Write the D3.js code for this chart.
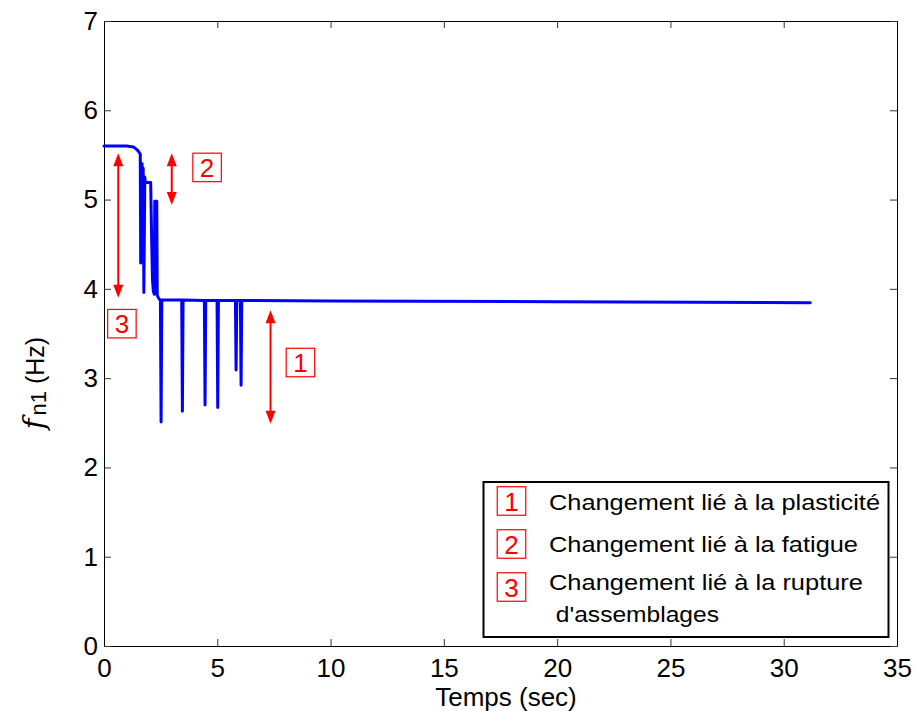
<!DOCTYPE html>
<html><head><meta charset="utf-8">
<script src="https://cdn.jsdelivr.net/npm/d3@7"></script>
<style>body{margin:0;background:#fff}svg{display:block}</style>
</head><body>
<script>
// ---- data ----
const times = [0, 1.0, 1.3, 1.45, 1.55, 1.6, 1.62, 1.66, 1.68, 1.70, 1.73, 1.76, 1.80, 1.82, 2.06, 2.10, 2.14, 2.18, 2.22, 2.24, 2.33, 2.35, 2.40, 2.45, 2.49,
  2.52, 2.55, 3.43, 3.46, 3.49, 4.43, 4.46, 4.49, 4.99, 5.02, 5.05, 5.80, 5.83, 5.86, 6.02, 6.05, 6.08, 10, 20, 31.17];
const freq = [5.60, 5.60, 5.59, 5.56, 5.53, 5.51, 4.29, 4.35, 5.40, 5.30, 5.35, 3.96, 5.25, 5.19, 5.19, 4.60, 4.10, 3.97, 3.94, 4.98, 4.98, 3.93, 3.90, 3.88, 3.875,
  2.51, 3.875, 3.875, 2.63, 3.875, 3.87, 2.70, 3.87, 3.87, 2.67, 3.87, 3.87, 3.09, 3.87, 3.87, 2.92, 3.87, 3.865, 3.855, 3.845];
const xTicks = [0, 5, 10, 15, 20, 25, 30, 35];
const yTicks = [0, 1, 2, 3, 4, 5, 6, 7];
const arrowT = [0.63, 2.99, 7.35];
const arrowTop = [5.52, 5.52, 3.76];
const arrowBottom = [3.90, 4.94, 2.49];
const tagLabels = ["3", "2", "1"];
const tagT = [0.79, 4.55, 8.67];
const tagY = [3.61, 5.36, 3.175];
const legendNums = ["1", "2", "3"];
const legendLines = [["Changement lié à la plasticité"], ["Changement lié à la fatigue"], ["Changement lié à la rupture", " d'assemblages"]];

// ---- chart ----
const W = 915, H = 711;
const svg = d3.select("body").append("svg").attr("width", W).attr("height", H);
svg.append("rect").attr("width", W).attr("height", H).attr("fill", "#fff");
const x = d3.scaleLinear().domain([0, 35]).range([104, 897]);
const y = d3.scaleLinear().domain([0, 7]).range([646, 21]);
const font = "'Liberation Sans', Arial, sans-serif";
const fmt = d3.format("d");

function styleAxis(g) {
  g.selectAll("path.domain").attr("stroke", "#000").attr("stroke-width", 1);
  g.selectAll(".tick line").attr("stroke", "#333").attr("stroke-width", 1);
  g.selectAll("text").attr("font-family", font).attr("font-size", 26).attr("fill", "#000");
}
svg.append("g").attr("transform", `translate(0,${y(0)})`)
  .call(d3.axisBottom(x).tickValues(xTicks).tickFormat(fmt).tickSizeInner(-7).tickSizeOuter(0).tickPadding(13)).call(styleAxis);
svg.append("g").attr("transform", `translate(0,${y(7)})`)
  .call(d3.axisTop(x).tickValues(xTicks).tickSizeInner(-7).tickSizeOuter(0).tickFormat("")).call(styleAxis);
svg.append("g").attr("transform", `translate(${x(0)},0)`)
  .call(d3.axisLeft(y).tickValues(yTicks).tickFormat(fmt).tickSizeInner(-7).tickSizeOuter(0).tickPadding(6)).call(styleAxis);
svg.append("g").attr("transform", `translate(${x(35)},0)`)
  .call(d3.axisRight(y).tickValues(yTicks).tickSizeInner(-7).tickSizeOuter(0).tickFormat("")).call(styleAxis);

// series line
const pts = times.map((t, i) => [t, freq[i]]);
svg.append("path").datum(pts)
  .attr("d", d3.line().x(d => x(d[0])).y(d => y(d[1])))
  .attr("fill", "none").attr("stroke", "#0000ff").attr("stroke-width", 3)
  .attr("stroke-linejoin", "round").attr("stroke-linecap", "round");

// red double arrows
const red = "#ff0000";
arrowT.forEach((t, i) => {
  const ax = x(t), y1 = y(arrowTop[i]), y2 = y(arrowBottom[i]);
  const hl = 13, hw = 5;
  svg.append("line").attr("x1", ax).attr("x2", ax).attr("y1", y1 + hl - 2).attr("y2", y2 - hl + 2)
    .attr("stroke", red).attr("stroke-width", 2);
  svg.append("path").attr("d", `M${ax},${y1} L${ax - hw},${y1 + hl} L${ax + hw},${y1 + hl} Z`).attr("fill", red);
  svg.append("path").attr("d", `M${ax},${y2} L${ax - hw},${y2 - hl} L${ax + hw},${y2 - hl} Z`).attr("fill", red);
});

// red tags in plot
function tag(g, cx, cy, label) {
  const s = 28.5;
  g.append("rect").attr("x", cx - s / 2).attr("y", cy - s / 2).attr("width", s).attr("height", s)
    .attr("fill", "#fff").attr("stroke", red).attr("stroke-width", 1.2);
  g.append("text").attr("x", cx).attr("y", cy + 9.5).attr("text-anchor", "middle")
    .attr("font-family", font).attr("font-size", 26).attr("fill", red).text(label);
}
tagLabels.forEach((l, i) => tag(svg, x(tagT[i]), y(tagY[i]), l));

// legend
const lg = svg.append("g");
lg.append("rect").attr("x", 483.5).attr("y", 482).attr("width", 405).attr("height", 155)
  .attr("fill", "#fff").attr("stroke", "#000").attr("stroke-width", 2);
const boxCY = [501, 544, 587];
const lineBase = [[509.5], [551.7], [590, 622]];
const lineLen = [[331], [309], [314, 170]];
const lineX = [[549], [549], [549, 549]];
legendNums.forEach((n, i) => {
  tag(lg, 511.5, boxCY[i], n);
  legendLines[i].forEach((s, j) => {
    lg.append("text").attr("x", lineX[i][j]).attr("y", lineBase[i][j])
      .attr("font-family", font).attr("font-size", 22).attr("fill", "#000")
      .attr("textLength", lineLen[i][j]).attr("lengthAdjust", "spacingAndGlyphs")
      .attr("xml:space", "preserve").style("white-space", "pre").text(s);
  });
});

// axis titles
svg.append("text").attr("x", 506).attr("y", 706).attr("text-anchor", "middle")
  .attr("font-family", font).attr("font-size", 26).attr("fill", "#000").text("Temps (sec)");
const yl = svg.append("text").attr("transform", "translate(44,383) rotate(-90)").attr("text-anchor", "middle")
  .attr("font-family", font).attr("font-size", 25).attr("fill", "#000");
yl.append("tspan").attr("font-family", "'DejaVu Serif', 'Liberation Serif', serif").attr("font-style", "italic").attr("font-size", 29).text("f");
yl.append("tspan").attr("font-size", 22).attr("dx", 3).attr("dy", 2).text("n1");
yl.append("tspan").attr("dy", -2).text(" (Hz)");
</script>
</body></html>
